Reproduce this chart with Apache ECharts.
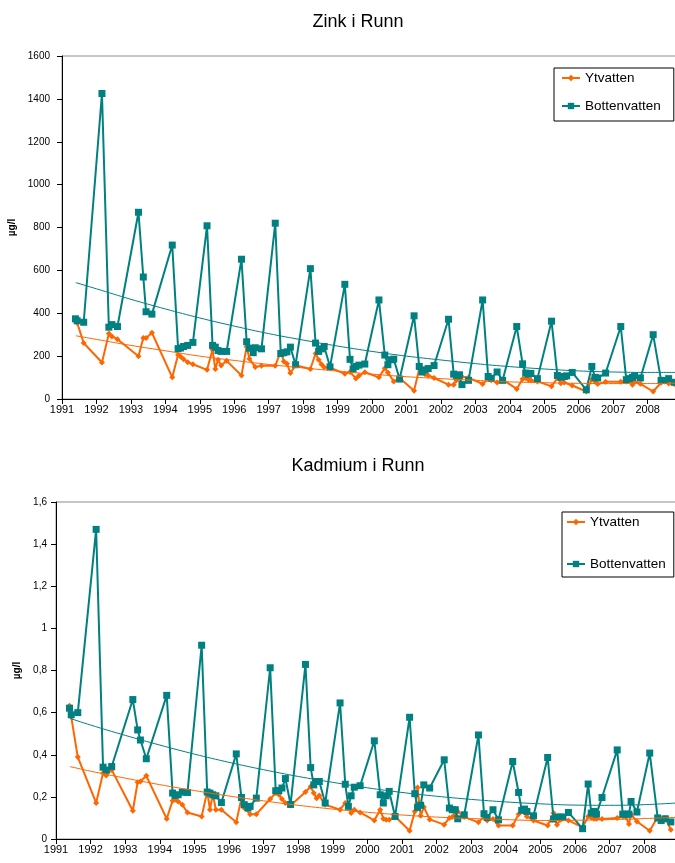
<!DOCTYPE html>
<html>
<head>
<meta charset="utf-8">
<script src="https://cdn.jsdelivr.net/npm/echarts@6/dist/echarts.min.js"></script>
<style>
  html, body { margin: 0; padding: 0; background: #fff; overflow: hidden; }
  #zink { position: absolute; left: 0; top: 0; width: 675px; height: 432px; }
  #kadmium { position: absolute; left: 0; top: 432px; width: 675px; height: 431px; }
</style>
</head>
<body>
<div id="zink"></div>
<div id="kadmium"></div>
<script>
// Sampling dates (decimal years), shared by all four series
const sampleDates = [
  1991.39, 1991.44, 1991.63,
  1992.16, 1992.36, 1992.45, 1992.61,
  1993.22, 1993.36, 1993.44, 1993.61,
  1994.20, 1994.37, 1994.44, 1994.53, 1994.65, 1994.80,
  1995.21, 1995.37, 1995.45, 1995.53, 1995.62, 1995.78,
  1996.21, 1996.36, 1996.44, 1996.55, 1996.61, 1996.79,
  1997.19, 1997.35, 1997.44, 1997.53, 1997.63, 1997.78,
  1998.21, 1998.36, 1998.45, 1998.53, 1998.61, 1998.78,
  1999.21, 1999.36, 1999.45, 1999.53, 1999.62, 1999.79,
  2000.20, 2000.37, 2000.46, 2000.54, 2000.63, 2000.80,
  2001.22, 2001.37, 2001.45, 2001.54, 2001.63, 2001.80,
  2002.22, 2002.37, 2002.45, 2002.54, 2002.61, 2002.80,
  2003.21, 2003.37, 2003.46, 2003.63, 2003.79,
  2004.20, 2004.37, 2004.46, 2004.54, 2004.61, 2004.80,
  2005.21, 2005.38, 2005.48, 2005.58, 2005.65, 2005.81,
  2006.22, 2006.38, 2006.47, 2006.55, 2006.62, 2006.78,
  2007.22, 2007.38, 2007.47, 2007.56, 2007.62, 2007.79,
  2008.16, 2008.39, 2008.49, 2008.61, 2008.77
];

// Zink, µg/l
const zinkYtvatten = [
  368, 355, 261,
  170, 305, 292, 279,
  199, 284, 284, 309,
  101, 206, 198, 186, 172, 162,
  136, 230, 140, 183, 156, 178,
  110, 244, 188, null, 149, 155,
  155, 222, 175, 165, 121, 157,
  140, 212, 183, 162, 148, 146,
  118, 126, null, 96, 108, 125,
  101, 144, 124, null, 82, 98,
  39, 140, 132, 116, 110, 98,
  67, 67, 88, 92, 104, 100,
  70, 93, 87, 77, 90,
  47, 93, 98, 90, 87, 82,
  59, 98, 74, 77, null, 63,
  35, 92, 82, 70, null, 80,
  80, 82, 90, 67, 82, 71,
  35, 76, 82, 72, 70
];
const zinkBottenvatten = [
  374, 365, 358,
  1425, 335, 347, 338,
  871, 569, 407, 396,
  718, 235, 238, 245, 250, 264,
  808, 250, 242, 226, 222, 222,
  652, 267, 237, 216, 239, 234,
  820, 212, 216, 220, 242, 160,
  608, 261, 222, 234, 245, 150,
  535, 185, 140, 152, 158, 163,
  462, 205, 160, 183, 186, 93,
  388, 152, 126, 136, 142, 156,
  372, 116, 108, 113, 67, 87,
  462, 105, 96, 126, 87,
  338, 164, 121, 116, 119, 95,
  363, 110, 101, 105, 108, 124,
  43, 152, 101, 98, null, 121,
  338, 90, 95, 101, 108, 98,
  300, 87, 86, 95, 78
];

// Kadmium, µg/l
const kadmiumYtvatten = [
  0.633, 0.58, 0.389,
  0.171, 0.313, 0.301, 0.328,
  0.134, 0.27, 0.273, 0.30,
  0.096, 0.182, 0.186, 0.178, 0.163, 0.126,
  0.107, 0.225, 0.139, 0.215, 0.139, 0.139,
  0.08, 0.194, 0.147, null, 0.118, 0.118,
  0.19, 0.218, 0.21, 0.19, 0.171, 0.159,
  0.223, 0.249, 0.218, 0.194, 0.207, 0.163,
  0.139, 0.171, 0.158, 0.123, 0.139, 0.126,
  0.088, 0.139, 0.096, 0.091, 0.091, 0.107,
  0.039, 0.13, 0.244, 0.11, 0.152, 0.093,
  0.068, 0.10, 0.104, 0.118, 0.131, 0.104,
  0.079, 0.107, 0.088, 0.095, 0.064,
  0.064, 0.118, 0.139, 0.126, 0.107, 0.088,
  0.064, 0.123, 0.068, 0.091, 0.096, 0.088,
  0.055, 0.107, 0.102, 0.096, 0.096, 0.095,
  0.10, 0.107, 0.104, 0.071, 0.118, 0.083,
  0.039, 0.104, 0.095, 0.10, 0.044
];
const kadmiumBottenvatten = [
  0.621, 0.59, 0.60,
  1.47, 0.341, 0.327, 0.344,
  0.662, 0.518, 0.47, 0.381,
  0.682, 0.218, 0.207, 0.21, 0.222, 0.221,
  0.92, 0.223, 0.218, 0.21, 0.205, 0.173,
  0.404, 0.197, 0.163, 0.147, 0.155, 0.194,
  0.813, 0.229, 0.23, 0.242, 0.287, 0.164,
  0.829, 0.339, 0.257, 0.273, 0.273, 0.171,
  0.646, 0.26, 0.155, 0.205, 0.246, 0.253,
  0.466, 0.21, 0.171, 0.205, 0.226, 0.107,
  0.578, 0.215, 0.15, 0.16, 0.257, 0.242,
  0.376, 0.147, 0.139, 0.139, 0.096, 0.115,
  0.494, 0.12, 0.102, 0.139, 0.091,
  0.368, 0.221, 0.136, 0.142, 0.131, 0.11,
  0.387, 0.095, 0.104, 0.104, 0.104, 0.126,
  0.049, 0.261, 0.123, 0.131, 0.118, 0.197,
  0.423, 0.118, 0.118, 0.118, 0.178, 0.128,
  0.408, 0.10, 0.088, 0.096, 0.081
];

// Trend curves (2nd order), read at whole years
const trendYears = [1991.4, 1992, 1993, 1994, 1995, 1996, 1997, 1998, 1999, 2000,
  2001, 2002, 2003, 2004, 2005, 2006, 2007, 2008, 2008.95];
const zinkYtTrend = [295, 278, 250, 225, 200, 180, 161, 145, 130, 116,
  104, 95, 87, 80, 76, 73, 72, 72, 74];
const zinkBottenTrend = [543, 514, 465, 420, 378, 340, 305, 275, 247, 222,
  200, 182, 165, 151, 140, 131, 126, 124, 124];
const kadmiumYtTrend = [0.344, 0.322, 0.289, 0.258, 0.230, 0.204, 0.181, 0.160, 0.142, 0.127,
  0.114, 0.104, 0.097, 0.092, 0.088, 0.089, 0.092, 0.097, 0.103];
const kadmiumBottenTrend = [0.573, 0.541, 0.492, 0.446, 0.403, 0.364, 0.329, 0.297, 0.269, 0.243,
  0.221, 0.203, 0.188, 0.176, 0.167, 0.161, 0.160, 0.163, 0.171];

const seriesNames = ['Ytvatten', 'Bottenvatten'];
const FONT = '"Liberation Sans", Arial, Helvetica, sans-serif';
const ORANGE = '#FF6600';
const TEAL = '#008080';

function pairs(xs, ys) {
  return xs.map((x, i) => [x, ys[i]]);
}

function buildOption(cfg) {
  return {
    animation: false,
    backgroundColor: '#fff',
    graphic: [{
      type: 'text',
      x: 358,
      y: cfg.titleY,
      style: {
        text: cfg.title,
        fontFamily: FONT,
        fontSize: 18,
        fill: '#000',
        align: 'center',
        verticalAlign: 'middle'
      }
    }],
    legend: {
      orient: 'vertical',
      left: cfg.legend.left,
      top: cfg.legend.top,
      data: seriesNames,
      itemWidth: 18,
      itemHeight: 8,
      itemGap: cfg.legend.gap,
      padding: cfg.legend.padding,
      borderColor: '#000',
      borderWidth: 1,
      borderRadius: 0,
      backgroundColor: '#fff',
      selectedMode: false,
      textStyle: { fontFamily: FONT, fontSize: 13.5, color: '#000' }
    },
    // plot area runs slightly past the right edge of the canvas
    grid: {
      left: cfg.grid.left,
      top: cfg.grid.top,
      width: cfg.grid.width,
      height: cfg.grid.height,
      outerBoundsMode: 'none',
      containLabel: false,
      show: true,
      borderColor: '#8c8c8c',
      borderWidth: 1,
      backgroundColor: 'transparent'
    },
    xAxis: {
      type: 'value',
      min: 1991,
      max: cfg.xMax,
      interval: 1,
      axisLine: { lineStyle: { color: '#000', width: 1 } },
      axisTick: { show: true, inside: false, length: 5, lineStyle: { color: '#000' } },
      splitLine: { show: false },
      axisLabel: {
        color: '#000',
        fontFamily: FONT,
        fontSize: 11,
        margin: 5,
        formatter: v => (Math.abs(v - Math.round(v)) < 1e-6 ? String(Math.round(v)) : '')
      }
    },
    yAxis: {
      type: 'value',
      min: 0,
      max: cfg.yMax,
      interval: cfg.yInterval,
      name: 'µg/l',
      nameLocation: 'middle',
      nameRotate: 90,
      nameGap: cfg.nameGap,
      nameTextStyle: { fontFamily: FONT, fontSize: 10, fontWeight: 'bold', color: '#000' },
      axisLine: { show: true, lineStyle: { color: '#000', width: 1 } },
      axisTick: { show: true, inside: false, length: 5, lineStyle: { color: '#000' } },
      splitLine: { show: false },
      axisLabel: {
        color: '#000',
        fontFamily: FONT,
        fontSize: 10,
        margin: cfg.labelMargin,
        formatter: cfg.yFormatter
      }
    },
    series: [
      {
        name: 'Ytvatten',
        type: 'line',
        data: pairs(sampleDates, cfg.yt),
        connectNulls: true,
        symbol: 'diamond',
        symbolSize: 6,
        lineStyle: { color: ORANGE, width: 2 },
        itemStyle: { color: ORANGE },
        z: 2
      },
      {
        name: 'Bottenvatten',
        type: 'line',
        data: pairs(sampleDates, cfg.bot),
        connectNulls: true,
        symbol: 'rect',
        symbolSize: 7,
        lineStyle: { color: TEAL, width: 2 },
        itemStyle: { color: TEAL },
        z: 3
      },
      {
        name: 'Ytvatten trend',
        type: 'line',
        data: pairs(trendYears, cfg.ytTrend),
        smooth: 0.4,
        symbol: 'none',
        lineStyle: { color: ORANGE, width: 1 },
        z: 4
      },
      {
        name: 'Bottenvatten trend',
        type: 'line',
        data: pairs(trendYears, cfg.botTrend),
        smooth: 0.4,
        symbol: 'none',
        lineStyle: { color: TEAL, width: 1 },
        z: 4
      }
    ]
  };
}

const zinkChart = echarts.init(document.getElementById('zink'), null, { renderer: 'canvas' });
zinkChart.setOption(buildOption({
  title: 'Zink i Runn',
  titleY: 22,
  grid: { left: 62, top: 56, width: 615, height: 343 },
  xMax: 2008.852,
  yMax: 1600,
  yInterval: 200,
  nameGap: 38,
  labelMargin: 12,
  yFormatter: v => String(v),
  legend: { left: 554, top: 68, gap: 14, padding: [3, 13, 8, 7] },
  yt: zinkYtvatten,
  bot: zinkBottenvatten,
  ytTrend: zinkYtTrend,
  botTrend: zinkBottenTrend
}));

const kadmiumChart = echarts.init(document.getElementById('kadmium'), null, { renderer: 'canvas' });
kadmiumChart.setOption(buildOption({
  title: 'Kadmium i Runn',
  titleY: 34,
  grid: { left: 56, top: 70, width: 621, height: 337 },
  xMax: 2008.948,
  yMax: 1.6,
  yInterval: 0.2,
  nameGap: 30,
  labelMargin: 9,
  yFormatter: v => String(Math.round(v * 10) / 10).replace('.', ','),
  legend: { left: 562, top: 80, gap: 28, padding: [3, 8, 6, 4] },
  yt: kadmiumYtvatten,
  bot: kadmiumBottenvatten,
  ytTrend: kadmiumYtTrend,
  botTrend: kadmiumBottenTrend
}));
</script>
</body>
</html>
